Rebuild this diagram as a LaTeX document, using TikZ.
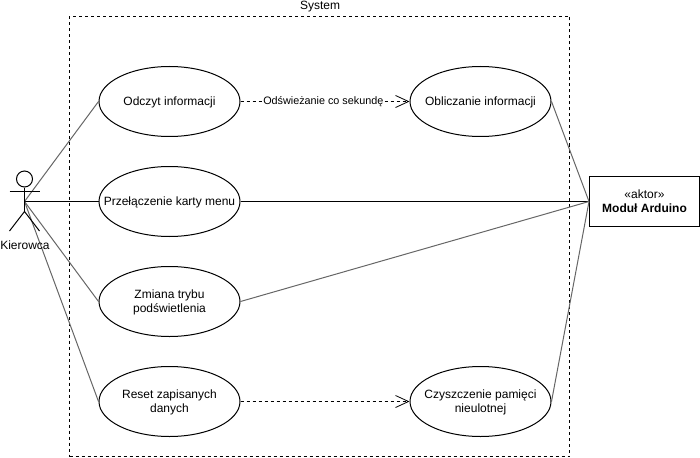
\documentclass[tikz,border=0pt]{standalone}
\usepackage{fontspec}
\setmainfont{Liberation Sans}
\usetikzlibrary{shapes.geometric,arrows.meta}
\tikzset{
  lbl/.style={font=\fontsize{12}{14}\selectfont,inner sep=0pt,align=center},
  uc/.style={draw=black,fill=white,ellipse,minimum width=141pt,minimum height=70pt,inner sep=0pt,line width=1pt,
    label={[lbl,yshift=-1pt]center:#1}},
  assoc/.style={draw=black!60,line width=1pt},
  hassoc/.style={draw=black,line width=1pt},
  dep/.style={draw=black,line width=1pt,dash pattern=on 3pt off 3pt,-{Straight Barb[length=13pt,width=12pt,line width=0.8pt]}},
  actorline/.style={draw=black,line width=1pt}
}
\begin{document}
\begin{tikzpicture}[x=1pt,y=-1pt]
\useasboundingbox (0,0) rectangle (700,457);
\node[draw=black,line width=1pt,dash pattern=on 3pt off 3pt,minimum width=500pt,minimum height=440pt,inner sep=0pt] (sys) at (319.5,236.5) {};
\node[lbl] (systitle) at (320,6.5) {System};
\coordinate (hand) at (24.5,201.5);
\coordinate (hip) at (24.5,211.5);
\coordinate (armL) at (9.5,191.5);
\coordinate (armR) at (39.5,191.5);
\coordinate (legL) at (9.5,231);
\coordinate (legR) at (39.5,231);
\node[uc={Odczyt informacji\strut}] (odczyt) at (169.5,101.5) {};
\node[uc={Przełączenie karty menu\strut}] (karta) at (169.5,201.5) {};
\node[uc={Zmiana trybu\strut\\podświetlenia\strut}] (tryb) at (169.5,301.5) {};
\node[uc={Reset zapisanych\strut\\danych\strut}] (reset) at (169.5,401.5) {};
\node[uc={Obliczanie informacji\strut}] (oblicz) at (480.5,101.5) {};
\node[uc={Czyszczenie pamięci\strut\\nieulotnej\strut}] (czysc) at (480.5,401.5) {};
\node[draw=black,fill=white,line width=1pt,minimum width=110pt,minimum height=50pt,inner sep=0pt,label={[lbl,yshift=-1pt]center:{«aktor»\strut\\\textbf{Moduł Arduino}\strut}}] (modul) at (644.5,201.5) {};
\draw[assoc] (hand) -- (odczyt.west);
\draw[hassoc] (hand) -- (karta.west);
\draw[assoc] (hand) -- (tryb.west);
\draw[assoc] (hand) -- (reset.west);
\draw[assoc] (oblicz.east) -- (modul.west);
\draw[hassoc] (karta.east) -- (modul.west);
\draw[assoc] (tryb.east) -- (modul.west);
\draw[assoc] (czysc.east) -- (modul.west);
\draw[dep] (odczyt.east) -- (oblicz.west) node[pos=0.49,fill=white,lbl,font=\fontsize{10.8}{13}\selectfont,inner xsep=1pt,inner ysep=1pt] (deplabel) {Odświeżanie co sekundę};
\draw[dep] (reset.east) -- (czysc.west);
\node[draw=black,fill=white,circle,line width=1pt,minimum size=16pt,inner sep=0pt] (head) at (24.5,179) {};
\draw[actorline] (head.south) -- (hip);
\draw[actorline] (armL) -- (armR);
\draw[actorline] (legL) -- (hip) -- (legR);
\node[lbl] (kierowca) at (25,245.5) {Kierowca};
\end{tikzpicture}
\end{document}
